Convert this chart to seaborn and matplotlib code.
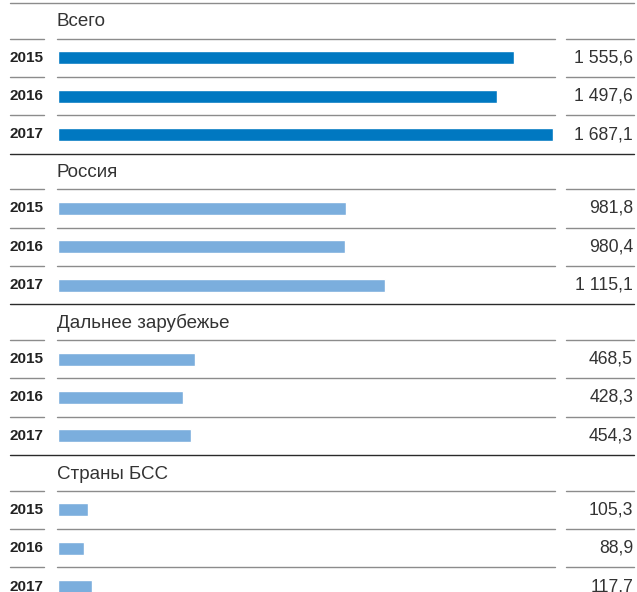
import matplotlib
matplotlib.use("Agg")
import matplotlib.pyplot as plt
from matplotlib.lines import Line2D
from matplotlib.transforms import blended_transform_factory
import seaborn as sns
import pandas as pd

sns.set_theme(style="white")
plt.rcParams["font.family"] = ["Liberation Sans", "DejaVu Sans"]

# Data
groups = ["Всего", "Россия", "Дальнее зарубежье", "Страны БСС"]
years = ["2015", "2016", "2017"]
total = [1555.6, 1497.6, 1687.1]
russia = [981.8, 980.4, 1115.1]
far_abroad = [468.5, 428.3, 454.3]
cis = [105.3, 88.9, 117.7]
series = [total, russia, far_abroad, cis]
bar_colors = ["#0078C1", "#7BAEDD", "#7BAEDD", "#7BAEDD"]

W, H = 637, 592
fig = plt.figure(figsize=(W / 100, H / 100), dpi=100)

# layout in pixels
first_top = 3.0
group_pitch = 150.67
header_h = 35.5
row_h = 38.4
bar_x0 = 57.5
px_per_unit = 495.5 / max(total)

sep_color = "#8c8c8c"
rule_color = "#2a2a2a"
text_color = "#333333"


def fmt(v):
    whole, frac = f"{v:.1f}".split(".")
    n = int(whole)
    s = f"{n:,}".replace(",", " ")
    return f"{s},{frac}"


# top rule of the table
fig.add_artist(Line2D([10 / W, 634 / W], [1 - first_top / H] * 2,
                      color=sep_color, lw=1.0))

for gi, (name, vals, col) in enumerate(zip(groups, series, bar_colors)):
    top = first_top + gi * group_pitch
    ax_top = top + header_h
    ax_h = 3 * row_h
    ax = fig.add_axes([0, 1 - (ax_top + ax_h) / H, 1, ax_h / H])
    df = pd.DataFrame({"year": years, "value": vals})
    sns.barplot(data=df, x="value", y="year", orient="h", color=col,
                width=13 / row_h, saturation=1, ax=ax)
    ax.set_xlim(-bar_x0 / px_per_unit, (W - bar_x0) / px_per_unit)
    ax.set_ylim(2.5, -0.5)
    ax.axis("off")

    # separators: header underline and between rows
    for y in (-0.5, 0.5, 1.5):
        for x0, x1 in ((10, 44), (57, 555), (566, 634)):
            ax.axhline(y, x0 / W, x1 / W, color=sep_color, lw=1.0, clip_on=False)
    # closing rule of the group
    ax.axhline(2.5, 10 / W, 634 / W, color=rule_color, lw=1.0, clip_on=False)

    fig.text(57 / W, 1 - (top + 19) / H, name, ha="left", va="center",
             fontsize=13.5, color=text_color)

    tr = blended_transform_factory(ax.transAxes, ax.transData)
    for i, (yr, v) in enumerate(zip(years, vals)):
        ax.text(10 / W, i, yr, transform=tr, ha="left", va="center",
                fontsize=11, fontweight="bold", color="#222222")
        ax.text(633 / W, i, fmt(v), transform=tr, ha="right", va="center",
                fontsize=12.7, color=text_color)

fig.savefig("out.png", dpi=100)
